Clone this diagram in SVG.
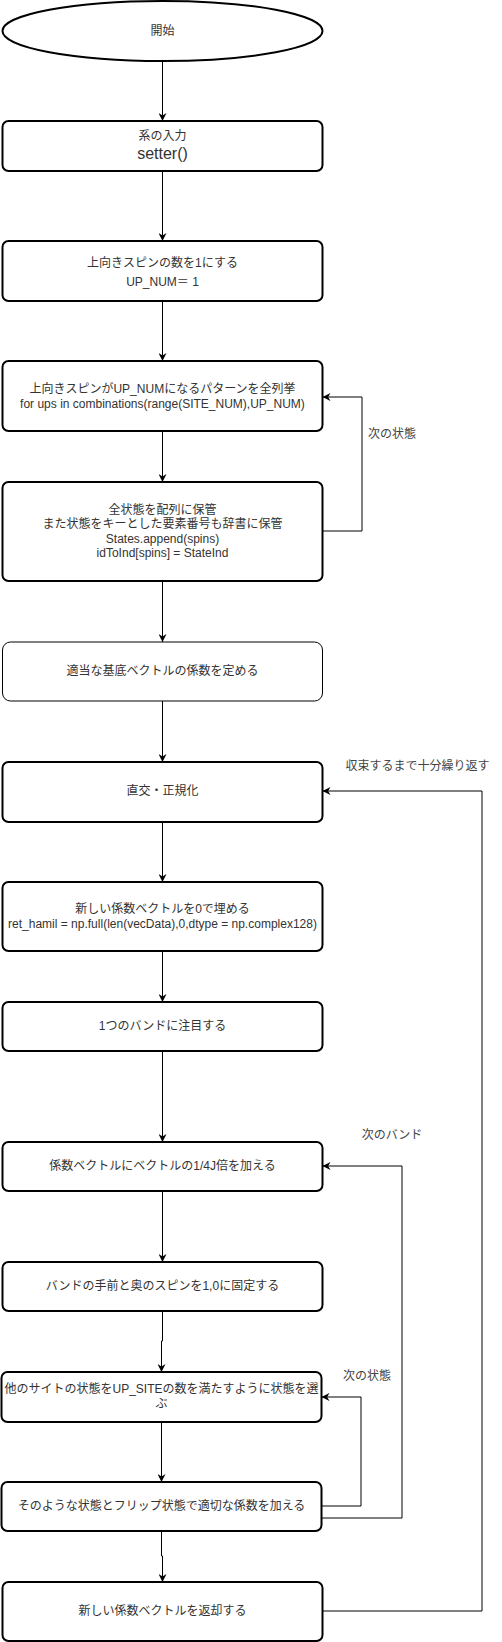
<svg xmlns="http://www.w3.org/2000/svg" width="502" height="1642" viewBox="0 0 502 1642">
<style>
.n{fill:#fff;stroke:#000;stroke-width:2}
.thin{stroke-width:1}
.t{font-family:"Liberation Sans","Noto Sans CJK JP",sans-serif;font-size:12px;fill:#333;text-anchor:middle;dominant-baseline:central}
.big{font-size:16px}
.lbl{font-family:"Liberation Sans","Noto Sans CJK JP",sans-serif;font-size:12px;fill:#444;text-anchor:middle;dominant-baseline:central}
.c{fill:none;stroke:#000;stroke-width:1}
</style>
<defs>
<marker id="arr" viewBox="0 0 10 10" refX="10" refY="5" markerWidth="8" markerHeight="8" markerUnits="userSpaceOnUse" orient="auto">
<path d="M0,0 L10,5 L0,10 L3,5 z" fill="#000"/>
</marker>
</defs>
<rect width="502" height="1642" fill="#fff"/>
<g id="connectors">
<path class="c" d="M162.5,61 V121" marker-end="url(#arr)"/>
<path class="c" d="M162.5,171 V241" marker-end="url(#arr)"/>
<path class="c" d="M162.5,301 V361" marker-end="url(#arr)"/>
<path class="c" d="M162.5,431 V482" marker-end="url(#arr)"/>
<path class="c" d="M162.5,581 V642" marker-end="url(#arr)"/>
<path class="c" d="M162.5,701 V762" marker-end="url(#arr)"/>
<path class="c" d="M162.5,822 V882" marker-end="url(#arr)"/>
<path class="c" d="M162.5,951 V1002" marker-end="url(#arr)"/>
<path class="c" d="M162.5,1051 V1142" marker-end="url(#arr)"/>
<path class="c" d="M162.5,1191 V1262" marker-end="url(#arr)"/>
<path class="c" d="M162.5,1311 V1341 H161.5 V1372" marker-end="url(#arr)"/>
<path class="c" d="M161.5,1422 V1482" marker-end="url(#arr)"/>
<path class="c" d="M161.5,1531 V1556 H162.5 V1582" marker-end="url(#arr)"/>
<path class="c" d="M322.5,531 H362 V397 H322.5" marker-end="url(#arr)"/>
<path class="c" d="M321.5,1506 H361 V1397 H321.5" marker-end="url(#arr)"/>
<path class="c" d="M321.5,1518 H402 V1166 H322.5" marker-end="url(#arr)"/>
<path class="c" d="M322.5,1611 H482 V791 H322.5" marker-end="url(#arr)"/>
<text class="lbl" x="392" y="434">次の状態</text>
<text class="lbl" x="417.5" y="766">収束するまで十分繰り返す</text>
<text class="lbl" x="392" y="1135">次のバンド</text>
<text class="lbl" x="367" y="1376">次の状態</text>
</g>
<g id="start">
<ellipse class="n" cx="162.5" cy="31" rx="160" ry="30"/>
<text class="t" x="162.5" y="31">開始</text>
</g>
<g id="input">
<rect class="n" x="2.5" y="121" width="320" height="50" rx="6"/>
<text class="t" x="162.5" y="136">系の入力</text>
<text class="t big" x="162.5" y="153">setter()</text>
</g>
<g id="upnum">
<rect class="n" x="2.5" y="241" width="320" height="60" rx="6"/>
<text class="t" x="162.5" y="263">上向きスピンの数を1にする</text>
<text class="t" x="162.5" y="282">UP_NUM＝ 1</text>
</g>
<g id="enumerate">
<rect class="n" x="2.5" y="361" width="320" height="70" rx="6"/>
<text class="t" x="162.5" y="389">上向きスピンがUP_NUMになるパターンを全列挙</text>
<text class="t" x="162.5" y="404">for ups in combinations(range(SITE_NUM),UP_NUM)</text>
</g>
<g id="store">
<rect class="n" x="2.5" y="482" width="320" height="99" rx="6"/>
<text class="t" x="162.5" y="510">全状態を配列に保管</text>
<text class="t" x="162.5" y="524">また状態をキーとした要素番号も辞書に保管</text>
<text class="t" x="162.5" y="539">States.append(spins)</text>
<text class="t" x="162.5" y="553">idToInd[spins] = StateInd</text>
</g>
<g id="coef">
<rect class="n thin" x="2.5" y="642" width="320" height="59" rx="8"/>
<text class="t" x="162.5" y="671">適当な基底ベクトルの係数を定める</text>
</g>
<g id="ortho">
<rect class="n" x="2.5" y="762" width="320" height="60" rx="6"/>
<text class="t" x="162.5" y="791">直交・正規化</text>
</g>
<g id="zero">
<rect class="n" x="2.5" y="882" width="320" height="69" rx="6"/>
<text class="t" x="162.5" y="909">新しい係数ベクトルを0で埋める</text>
<text class="t" x="162.5" y="924">ret_hamil = np.full(len(vecData),0,dtype = np.complex128)</text>
</g>
<g id="band">
<rect class="n" x="2.5" y="1002" width="320" height="49" rx="6"/>
<text class="t" x="162.5" y="1026">1つのバンドに注目する</text>
</g>
<g id="add">
<rect class="n" x="2.5" y="1142" width="320" height="49" rx="6"/>
<text class="t" x="162.5" y="1166">係数ベクトルにベクトルの1/4J倍を加える</text>
</g>
<g id="fix">
<rect class="n" x="2.5" y="1262" width="320" height="49" rx="6"/>
<text class="t" x="162.5" y="1286">バンドの手前と奥のスピンを1,0に固定する</text>
</g>
<g id="choose">
<rect class="n" x="1.5" y="1372" width="320" height="50" rx="6"/>
<text class="t" x="161.5" y="1389">他のサイトの状態をUP_SITEの数を満たすように状態を選</text>
<text class="t" x="161.5" y="1404">ぶ</text>
</g>
<g id="flip">
<rect class="n" x="1.5" y="1482" width="320" height="49" rx="6"/>
<text class="t" x="161.5" y="1506">そのような状態とフリップ状態で適切な係数を加える</text>
</g>
<g id="return">
<rect class="n" x="2.5" y="1582" width="320" height="59" rx="6"/>
<text class="t" x="162.5" y="1611">新しい係数ベクトルを返却する</text>
</g>
</svg>
